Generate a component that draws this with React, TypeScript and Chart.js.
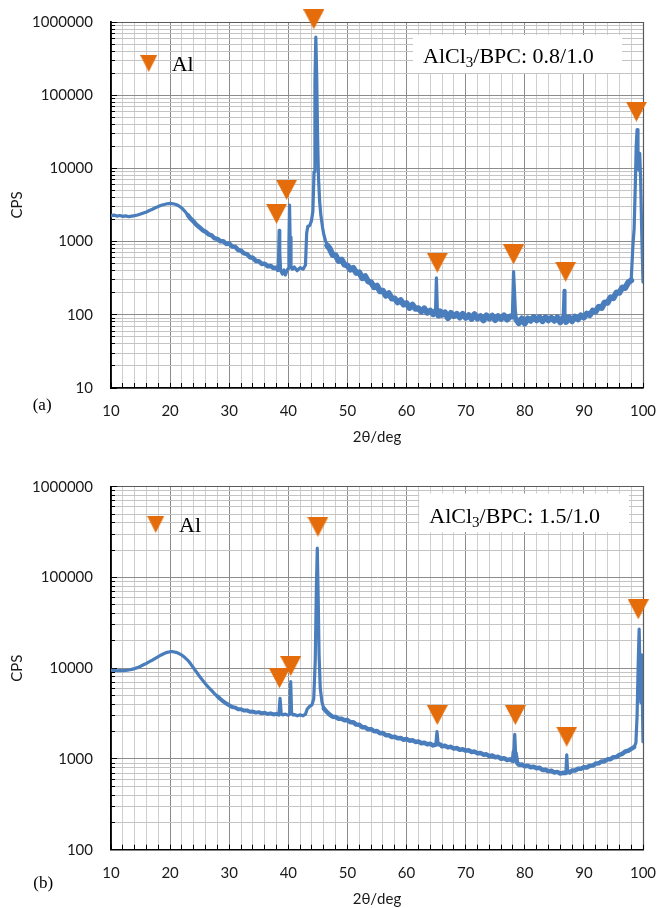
import React, { useEffect, useRef } from 'react';
import { Chart, registerables } from 'chart.js';

Chart.register(...registerables);

// ---------- Panel (a) data ----------
const angleA = [
  10, 10.5, 11, 11.5, 12, 12.5, 13, 13.5, 14, 14.5, 15, 15.5, 16, 16.5, 17, 17.5, 18, 18.5, 19, 19.5,
  20, 20.5, 21, 21.5, 22, 22.5, 23, 23.5, 24, 24.5, 25, 25.5, 26, 26.5, 27, 27.5, 28, 28.5, 29, 29.5,
  30, 30.5, 31, 31.5, 32, 32.5, 33, 33.5, 34, 34.5, 35, 35.5, 36, 36.5, 37, 37.5, 38, 38.25, 38.35, 38.45,
  38.55, 38.7, 39, 39.25, 39.5, 39.8, 40, 40.1, 40.2, 40.3, 40.45, 40.7, 41, 41.5, 42, 42.5, 42.9, 43.1,
  43.3, 43.6, 43.9, 44.15, 44.35, 44.5, 44.65, 44.8, 44.95, 45.1, 45.3, 45.5, 45.8, 46, 46.3, 46.6, 47,
  47.5, 48, 48.5, 49, 49.5, 50, 50.5, 51, 51.5, 52, 52.5, 53, 53.5, 54, 54.5, 55, 55.5, 56, 56.5, 57,
  57.5, 58, 58.5, 59, 59.5, 60, 60.5, 61, 61.5, 62, 62.5, 63, 63.5, 64, 64.5, 64.9, 65.05, 65.2, 65.4,
  65.7, 66, 66.5, 67, 67.5, 68, 68.5, 69, 69.5, 70, 70.5, 71, 71.5, 72, 72.5, 73, 73.5, 74, 74.5, 75,
  75.5, 76, 76.5, 77, 77.5, 77.9, 78.1, 78.25, 78.4, 78.6, 79, 79.5, 80, 80.5, 81, 81.5, 82, 82.5, 83,
  83.5, 84, 84.5, 85, 85.5, 86, 86.5, 86.65, 86.8, 87, 87.5, 88, 88.5, 89, 89.5, 90, 90.5, 91, 91.5, 92,
  92.5, 93, 93.5, 94, 94.5, 95, 95.5, 96, 96.5, 97, 97.5, 98, 98.3, 98.5, 98.7, 98.85, 99, 99.15, 99.3,
  99.45, 99.6, 99.8, 100,
];
const cpsA = [
  2260, 2300, 2230, 2270, 2210, 2250, 2190, 2230, 2260, 2310, 2380, 2460, 2540, 2660, 2770, 2900, 3010, 3130, 3210, 3290,
  3330, 3290, 3210, 3070, 2860, 2590, 2300, 2040, 1870, 1680, 1560, 1430, 1360, 1260, 1220, 1110, 1090, 1010, 1010, 930,
  940, 860, 850, 770, 750, 690, 675, 610, 600, 545, 540, 495, 500, 460, 465, 435, 440, 410, 620, 1420,
  720, 400, 360, 410, 350, 410, 430, 950, 3150, 1150, 460, 420, 450, 400, 440, 420, 480, 1300,
  1620, 1650, 1900, 2600, 9000, 150000, 620000, 180000, 28000, 7500, 3500, 2300, 1550, 1250, 1020, 880, 800,
  655, 650, 545, 567, 485, 470, 414, 436, 374, 380, 316, 337, 286, 277, 238, 250, 210, 213, 183, 197,
  167, 167, 148, 158, 138, 144, 124, 137, 121, 123, 111, 122, 107, 114, 102, 112, 320, 125, 98,
  111, 100, 108, 90, 106, 96, 103, 92, 103, 91, 99, 88, 102, 89, 96, 84, 98, 89, 97, 85,
  96, 88, 98, 86, 95, 95, 390, 220, 115, 85, 77, 89, 76, 89, 83, 93, 84, 92, 82,
  92, 84, 91, 83, 92, 79, 91, 215, 92, 80, 92, 82, 94, 87, 98, 92, 104, 99, 114, 111,
  129, 124, 147, 146, 173, 169, 201, 200, 236, 233, 276, 295, 900, 1500, 6000, 20000, 34000, 12000, 9500,
  16000, 7000, 1200, 280,
];
const markAngleA = [38.0, 39.7, 44.3, 65.2, 78.1, 86.9, 98.9];
const markCpsA = [2400, 5100, 1090000, 515, 670, 388, 59600];

// ---------- Panel (b) data ----------
const angleB = [
  10, 10.5, 11, 11.5, 12, 12.5, 13, 13.5, 14, 14.5, 15, 15.5, 16, 16.5, 17, 17.5, 18, 18.5, 19, 19.5,
  20, 20.5, 21, 21.5, 22, 22.5, 23, 23.5, 24, 24.5, 25, 25.5, 26, 26.5, 27, 27.5, 28, 28.5, 29, 29.5,
  30, 30.5, 31, 31.5, 32, 32.5, 33, 33.5, 34, 34.5, 35, 35.5, 36, 36.5, 37, 37.5, 38, 38.4, 38.6, 38.8,
  39, 39.5, 40, 40.25, 40.4, 40.55, 40.8, 41, 41.5, 42, 42.5, 42.9, 43.2, 43.6, 44, 44.3, 44.55, 44.75,
  44.9, 45.05, 45.2, 45.4, 45.7, 46, 46.5, 47, 47.5, 48, 48.5, 49, 49.5, 50, 50.5, 51, 51.5, 52, 52.5,
  53, 53.5, 54, 54.5, 55, 55.5, 56, 56.5, 57, 57.5, 58, 58.5, 59, 59.5, 60, 60.5, 61, 61.5, 62, 62.5,
  63, 63.5, 64, 64.5, 64.95, 65.15, 65.35, 65.7, 66, 66.5, 67, 67.5, 68, 68.5, 69, 69.5, 70, 70.5, 71,
  71.5, 72, 72.5, 73, 73.5, 74, 74.5, 75, 75.5, 76, 76.5, 77, 77.5, 78, 78.15, 78.3, 78.45, 78.7, 79,
  79.5, 80, 80.5, 81, 81.5, 82, 82.5, 83, 83.5, 84, 84.5, 85, 85.5, 86, 86.5, 86.95, 87.1, 87.25, 87.6,
  88, 88.5, 89, 89.5, 90, 90.5, 91, 91.5, 92, 92.5, 93, 93.5, 94, 94.5, 95, 95.5, 96, 96.5, 97, 97.5,
  98, 98.5, 98.8, 99, 99.2, 99.35, 99.5, 99.62, 99.75, 99.88, 100,
];
const cpsB = [
  9500, 9450, 9380, 9420, 9400, 9450, 9560, 9700, 9900, 10150, 10500, 10900, 11300, 11800, 12300, 12850, 13400, 14000, 14500, 14950,
  15200, 15200, 14950, 14500, 13900, 13100, 12200, 11100, 10000, 9000, 8100, 7350, 6700, 6150, 5700, 5250, 4900, 4580, 4300, 4080,
  3900, 3730, 3680, 3530, 3530, 3410, 3430, 3310, 3330, 3240, 3280, 3180, 3230, 3130, 3180, 3090, 3140, 3080, 4650, 3150,
  3060, 3120, 3020, 3120, 7100, 3250, 3050, 3090, 2990, 3060, 2990, 3120, 3550, 3800, 3950, 4600, 12000, 80000,
  210000, 60000, 14000, 6000, 4200, 3600, 3300, 3080, 2920, 2900, 2770, 2780, 2670, 2680, 2540, 2530, 2390, 2380, 2240,
  2230, 2120, 2130, 2020, 2030, 1920, 1930, 1820, 1830, 1740, 1760, 1690, 1700, 1630, 1660, 1590, 1610, 1540, 1560, 1490,
  1510, 1450, 1470, 1410, 1440, 2000, 1450, 1440, 1380, 1400, 1340, 1360, 1300, 1320, 1260, 1280, 1235, 1245, 1195,
  1205, 1155, 1165, 1115, 1125, 1075, 1090, 1045, 1055, 1005, 1020, 975, 990, 950, 1200, 1870, 1150, 910, 865,
  870, 830, 840, 810, 820, 790, 800, 755, 760, 730, 740, 710, 720, 690, 705, 700, 1110, 730, 710,
  745, 745, 780, 780, 810, 805, 840, 845, 890, 895, 940, 945, 990, 995, 1045, 1050, 1110, 1140, 1210, 1230,
  1290, 1350, 1500, 3000, 12000, 27000, 9000, 4200, 14000, 5000, 1550,
];
const markAngleB = [38.5, 40.4, 45.0, 65.2, 78.4, 87.1, 99.2];
const markCpsB = [7740, 10570, 362000, 3050, 3050, 1760, 44600];

// ---------- Axis ticks / labels ----------
const xLabelValues = [10, 20, 30, 40, 50, 60, 70, 80, 90, 100];
const decadesA = [10, 100, 1000, 10000, 100000];
const decadesB = [100, 1000, 10000, 100000];
const yMaxValue = 1000000;
const multipliers = [1, 2, 3, 4, 5, 6, 7, 8, 9];
const xTitle = '2θ/deg';
const yTitle = 'CPS';
const legendText = 'Al';
const ratioA = '0.8/1.0';
const ratioB = '1.5/1.0';
const panelA = '(a)';
const panelB = '(b)';

// noisy-band stroke widths (style only): [from, to, width]
const bandStyleA = [
  [23, 38.25, 4.5],
  [46.6, 64.9, 6],
  [65.4, 77.9, 6],
  [78.6, 86.5, 6],
  [86.8, 98, 6],
];
const bandStyleB = [
  [28, 38.4, 4],
  [46, 64.95, 4.5],
  [65.35, 78.15, 4.5],
  [78.45, 86.95, 4.5],
  [87.25, 98.5, 4.5],
];

const LINE = '#4A7DBB';
const ORANGE = '#E46C0A';
const MAJOR_GRID = '#8C8C8C';
const MINOR_GRID_X = '#CFCFCF';
const MINOR_GRID_Y = '#C4C4C4';
const SANS = 'Lato';
const SERIF = '"Liberation Serif", "Times New Roman", serif';

function makeTriangle(w: number, h: number, color: string) {
  const c = document.createElement('canvas');
  c.width = w;
  c.height = h;
  const g = c.getContext('2d')!;
  g.fillStyle = color;
  g.beginPath();
  g.moveTo(0, 0);
  g.lineTo(w, 0);
  g.lineTo(w / 2, h);
  g.closePath();
  g.fill();
  return c;
}

function align(p: number) {
  return Math.round(p - 0.5) + 0.5;
}

const overlayPlugin = {
  id: 'overlay',
  beforeDatasetsDraw(chart: any) {
    const ctx = chart.ctx;
    const { left, right, top, bottom } = chart.chartArea;
    const xs = chart.scales.x;
    const ys = chart.scales.y;
    ctx.save();
    ctx.strokeStyle = '#5A5A5A';
    ctx.lineWidth = 1.2;
    ctx.beginPath();
    ctx.moveTo(left, align(top));
    ctx.lineTo(align(right), align(top));
    ctx.lineTo(align(right), bottom);
    ctx.stroke();
    ctx.strokeStyle = '#000';
    ctx.lineWidth = 1;
    ctx.beginPath();
    xs.ticks.forEach((t: any) => {
      const px = align(xs.getPixelForValue(t.value));
      ctx.moveTo(px, bottom);
      ctx.lineTo(px, bottom - 5);
    });
    ys.ticks.forEach((t: any) => {
      const py = align(ys.getPixelForValue(t.value));
      const len = t.major ? 6 : 4;
      ctx.moveTo(left, py);
      ctx.lineTo(left + len, py);
    });
    ctx.stroke();
    ctx.restore();
  },
  afterDraw(chart: any, _args: any, opts: any) {
    const ctx = chart.ctx;
    ctx.save();
    ctx.fillStyle = '#fff';
    ctx.fillRect(opts.box[0], opts.box[1], opts.box[2], opts.box[3]);
    ctx.fillStyle = '#000';
    ctx.textBaseline = 'alphabetic';
    ctx.textAlign = 'left';
    let x = opts.textX;
    const by = opts.textY;
    ctx.font = `22px ${SERIF}`;
    ctx.fillText('AlCl', x, by);
    x += ctx.measureText('AlCl').width;
    ctx.font = `15px ${SERIF}`;
    ctx.fillText('3', x, by + 4);
    x += ctx.measureText('3').width;
    ctx.font = `22px ${SERIF}`;
    ctx.fillText('/BPC: ' + opts.ratio, x, by);
    const lt = opts.legendTri;
    ctx.drawImage(lt, opts.legendX - lt.width / 2, opts.legendTop);
    ctx.fillText(legendText, opts.legendTextX, opts.legendTextY);
    ctx.font = `17px ${SERIF}`;
    ctx.textBaseline = 'middle';
    ctx.fillText(opts.panel, opts.panelX, opts.panelY);
    ctx.restore();
  },
};

function buildConfig(p: any) {
  const yTicks = p.decades
    .flatMap((d: number) => multipliers.map((m) => d * m))
    .concat([yMaxValue]);
  const yLabelSet = p.decades.concat([yMaxValue]);
  const bandWidth = (c: any) => {
    const x0 = c.p0.parsed.x;
    const x1 = c.p1.parsed.x;
    for (const [from, to, w] of p.bands) {
      if (x0 >= from && x1 <= to) return w;
    }
    return undefined;
  };
  return {
    type: 'scatter',
    data: {
      datasets: [
        {
          data: p.markAngles.map((a: number, i: number) => ({ x: a, y: p.markCps[i] })),
          pointStyle: p.tri,
          pointRadius: 11,
          showLine: false,
          clip: false,
        },
        {
          data: p.angles.map((a: number, i: number) => ({ x: a, y: p.cps[i] })),
          showLine: true,
          borderColor: LINE,
          borderWidth: 3.2,
          borderJoinStyle: 'round',
          borderCapStyle: 'round',
          pointRadius: 0,
          tension: 0,
          fill: false,
          segment: { borderWidth: bandWidth },
        },
      ],
    },
    options: {
      responsive: false,
      animation: false,
      devicePixelRatio: 1,
      events: [],
      layout: { padding: { top: p.padTop, right: 17, bottom: p.padBottom, left: 0 } },
      plugins: {
        legend: { display: false },
        tooltip: { enabled: false },
        overlay: p.overlay,
      },
      scales: {
        x: {
          type: 'linear',
          min: 10,
          max: 100,
          afterFit: (s: any) => {
            s.height = p.xAxisHeight;
            s.paddingLeft = 0;
            s.paddingRight = 0;
          },
          ticks: {
            stepSize: 2,
            autoSkip: false,
            maxRotation: 0,
            padding: 14,
            color: '#1a1a1a',
            font: { family: SANS, size: 15 },
            callback: (v: number) => (xLabelValues.includes(v) ? String(v) : ''),
          },
          grid: {
            drawTicks: false,
            lineWidth: 1,
            color: (c: any) => (c.tick && c.tick.value % 10 === 0 ? MAJOR_GRID : MINOR_GRID_X),
          },
          border: { color: '#000', width: 1.5 },
          title: {
            display: true,
            text: xTitle,
            color: '#1a1a1a',
            font: { family: SANS, size: 15 },
            padding: { top: 0, bottom: 0 },
          },
        },
        y: {
          type: 'logarithmic',
          min: p.decades[0],
          max: yMaxValue,
          afterFit: (s: any) => {
            s.width = 111;
            s.paddingTop = 0;
            s.paddingBottom = 0;
          },
          afterBuildTicks: (s: any) => {
            s.ticks = yTicks.map((v: number) => ({ value: v, major: yLabelSet.includes(v) }));
          },
          ticks: {
            autoSkip: false,
            padding: 18,
            color: '#1a1a1a',
            font: { family: SANS, size: 15 },
            callback: (v: number) => (yLabelSet.includes(v) ? String(v) : ''),
          },
          grid: {
            drawTicks: false,
            lineWidth: 1,
            color: (c: any) => (c.tick && c.tick.major ? MAJOR_GRID : MINOR_GRID_Y),
          },
          border: { color: '#000', width: 1.8 },
          title: {
            display: true,
            text: yTitle,
            color: '#1a1a1a',
            font: { family: SANS, size: 15 },
            padding: { top: 8, bottom: 0 },
          },
        },
      },
    },
    plugins: [overlayPlugin],
  };
}

export default function App() {
  const refA = useRef<HTMLCanvasElement>(null);
  const refB = useRef<HTMLCanvasElement>(null);

  useEffect(() => {
    const tri = makeTriangle(21, 20, ORANGE);
    const legendTri = makeTriangle(17, 17, ORANGE);
    const ca = new Chart(
      refA.current as HTMLCanvasElement,
      buildConfig({
        angles: angleA,
        cps: cpsA,
        markAngles: markAngleA,
        markCps: markCpsA,
        decades: decadesA,
        bands: bandStyleA,
        tri,
        padTop: 22,
        padBottom: 8,
        xAxisHeight: 58,
        overlay: {
          box: [413, 35, 209, 38],
          textX: 423,
          textY: 63,
          ratio: ratioA,
          legendTri,
          legendX: 148.7,
          legendTop: 55,
          legendTextX: 171.7,
          legendTextY: 71,
          panel: panelA,
          panelX: 32.7,
          panelY: 405.7,
        },
      }) as any
    );
    const cb = new Chart(
      refB.current as HTMLCanvasElement,
      buildConfig({
        angles: angleB,
        cps: cpsB,
        markAngles: markAngleB,
        markCps: markCpsB,
        decades: decadesB,
        bands: bandStyleB,
        tri,
        padTop: 32.7,
        padBottom: 0,
        xAxisHeight: 58.3,
        overlay: {
          box: [419.3, 39.5, 209.7, 38.5],
          textX: 429.3,
          textY: 69.3,
          ratio: ratioB,
          legendTri,
          legendX: 155.7,
          legendTop: 62,
          legendTextX: 179,
          legendTextY: 78.3,
          panel: panelB,
          panelX: 33.3,
          panelY: 429.3,
        },
      }) as any
    );
    return () => {
      ca.destroy();
      cb.destroy();
    };
  }, []);

  return (
    <div style={{ position: 'absolute', left: 0, top: 0, width: 660, height: 908, background: '#fff' }}>
      <canvas
        ref={refA}
        width={660}
        height={454}
        style={{ position: 'absolute', left: 0, top: 0, width: 660, height: 454 }}
      />
      <canvas
        ref={refB}
        width={660}
        height={454}
        style={{ position: 'absolute', left: 0, top: 454, width: 660, height: 454 }}
      />
    </div>
  );
}
